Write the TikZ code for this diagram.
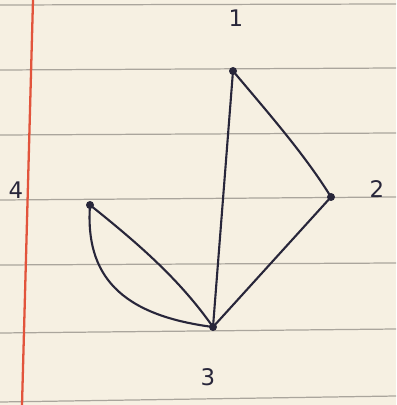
\documentclass[tikz,border=0pt]{standalone}
\usepackage{fontspec}
\setmainfont{DejaVu Sans}
\definecolor{paper}{RGB}{246,240,226}
\definecolor{rule}{RGB}{170,165,156}
\definecolor{margin}{RGB}{226,84,60}
\definecolor{ink}{RGB}{40,38,58}
\begin{document}
\begin{tikzpicture}[x=0.02cm,y=-0.02cm,
  vtx/.style={circle,fill=ink,inner sep=0pt,minimum size=0.16cm},
  lbl/.style={text=ink,font=\fontsize{13}{13}\selectfont},
  edge/.style={draw=ink,line width=1.2pt,line cap=round}]
\fill[paper] (0,0) rectangle (396,405);
\useasboundingbox (0,0) rectangle (396,405);
% ruled lines
\foreach \a/\b in {5/4,70/68,135/133,200/197,265/263,333/329,402/396}
  \draw[rule,line width=0.7pt] (0,\a) -- (396,\b);
% margin
\draw[margin,line width=1.3pt] (33,0) -- (22,405);
% vertices
\node[vtx] (n1) at (233,71) {};
\node[vtx] (n2) at (331,197) {};
\node[vtx] (n3) at (213,327) {};
\node[vtx] (n4) at (90,205) {};
% labels
\node[lbl] (l1) at (236,18) {1};
\node[lbl] (l2) at (377,189) {2};
\node[lbl] (l3) at (208,377) {3};
\node[lbl] (l4) at (16,190) {4};
% edges
\draw[edge] (n1.center) -- (n3.center);
\draw[edge] (n1.center) .. controls (270,115) and (305,155) .. (n2.center);
\draw[edge] (n2.center) -- (n3.center);
\draw[edge] (n4.center) .. controls (140,245) and (180,280) .. (n3.center);
\draw[edge] (n4.center) .. controls (85,275) and (120,315) .. (n3.center);
\end{tikzpicture}
\end{document}
